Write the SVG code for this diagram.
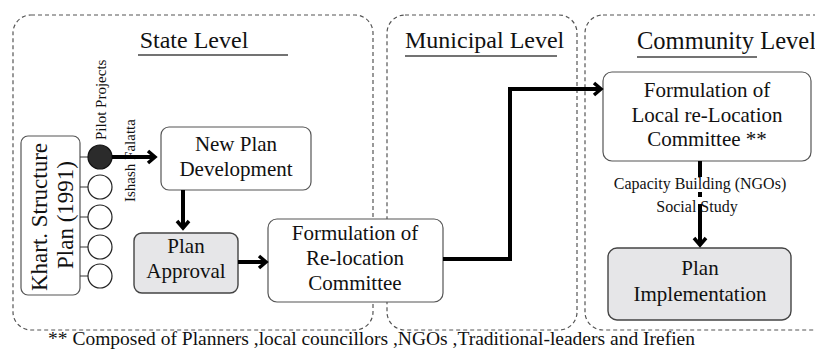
<svg xmlns="http://www.w3.org/2000/svg" width="815" height="352" viewBox="0 0 815 352">
  <style>
    .panel { fill: none; stroke: #555; stroke-width: 1.2; stroke-dasharray: 4 3; }
    .box { fill: #fff; stroke: #555; stroke-width: 1.2; }
    .grey { fill: #e6e6e8; stroke: #444; stroke-width: 1.4; }
    .lbl { font-family: "Liberation Serif", "Times New Roman", serif; font-size: 21px; fill: #111; text-anchor: middle; }
    .rot { font-size: 23px; }
    .title { font-family: "Liberation Serif", "Times New Roman", serif; font-size: 24px; fill: #111; }
    .small { font-family: "Liberation Serif", "Times New Roman", serif; font-size: 16px; fill: #111; }
    .note { font-size: 19.5px; }
    .tiny { font-family: "Liberation Serif", "Times New Roman", serif; font-size: 15px; fill: #111; }
    .uline { stroke: #444; stroke-width: 1.6; }
    .flow { fill: none; stroke: #000; stroke-width: 4; }
    .tick { stroke: #333; stroke-width: 1; }
    .dot { fill: #fff; stroke: #222; stroke-width: 1.2; }
  </style>
  <defs>
    <marker id="chev" markerUnits="userSpaceOnUse" markerWidth="14" markerHeight="16" refX="10" refY="8" orient="auto">
      <path d="M3,2 L10,8 L3,14" fill="none" stroke="#000" stroke-width="3.5"/>
    </marker>
  </defs>

  <!-- level panels -->
  <g id="state-level">
    <rect class="panel" x="13" y="15" width="360" height="315" rx="18"/>
    <text class="title" x="194" y="48" text-anchor="middle">State Level</text>
    <line class="uline" x1="138" y1="55" x2="288" y2="55"/>
  </g>
  <g id="municipal-level">
    <rect class="panel" x="387" y="15" width="190" height="315" rx="18"/>
    <text class="title" x="405" y="48">Municipal Level</text>
    <line class="uline" x1="405" y1="56" x2="557" y2="56"/>
  </g>
  <g id="community-level">
    <rect class="panel" x="585" y="15" width="250" height="315" rx="18"/>
    <text class="title" x="637" y="49" style="font-size:24.5px">Community Level</text>
    <line class="uline" x1="637" y1="57" x2="757" y2="57"/>
  </g>

  <!-- structure plan with its projects -->
  <g id="structure-plan">
    <rect class="box" x="21" y="136" width="59" height="159" rx="7"/>
    <text class="lbl rot" transform="translate(47,217) rotate(-90)">Khart. Structure</text>
    <text class="lbl rot" transform="translate(73,215) rotate(-90)">Plan (1991)</text>
  </g>
  <g id="projects">
    <line class="tick" x1="80" y1="157" x2="88" y2="157"/>
    <line class="tick" x1="80" y1="187" x2="88" y2="187"/>
    <line class="tick" x1="80" y1="217" x2="88" y2="217"/>
    <line class="tick" x1="80" y1="247" x2="88" y2="247"/>
    <line class="tick" x1="80" y1="276" x2="88" y2="276"/>
    <circle cx="100" cy="157" r="12" fill="#2b2b2b" stroke="#111" stroke-width="1.2"/>
    <circle class="dot" cx="100" cy="187" r="12"/>
    <circle class="dot" cx="100" cy="217" r="12"/>
    <circle class="dot" cx="100" cy="247" r="12"/>
    <circle class="dot" cx="100" cy="276" r="12"/>
    <text class="tiny" transform="translate(106,140) rotate(-90)">Pilot Projects</text>
    <text class="tiny" transform="translate(135,202) rotate(-90)">Ishash Falatta</text>
  </g>

  <g id="new-plan">
    <rect class="box" x="161" y="127" width="150" height="63" rx="8"/>
    <text class="lbl" x="236" y="151">New Plan</text>
    <text class="lbl" x="236" y="176">Development</text>
  </g>
  <g id="plan-approval">
    <rect class="grey" x="134" y="233" width="104" height="60" rx="8"/>
    <text class="lbl" x="186" y="253">Plan</text>
    <text class="lbl" x="186" y="278">Approval</text>
  </g>
  <g id="relocation-committee">
    <rect class="box" x="268" y="219" width="175" height="83" rx="9"/>
    <text class="lbl" x="355" y="240">Formulation of</text>
    <text class="lbl" x="355" y="265">Re-location</text>
    <text class="lbl" x="355" y="290">Committee</text>
  </g>
  <g id="local-committee">
    <rect class="box" x="603" y="72" width="208" height="89" rx="9"/>
    <text class="lbl" x="707" y="97">Formulation of</text>
    <text class="lbl" x="707" y="122">Local re-Location</text>
    <text class="lbl" x="707" y="146">Committee **</text>
  </g>
  <g id="plan-implementation">
    <rect class="grey" x="608" y="248" width="183" height="72" rx="9"/>
    <text class="lbl" x="700" y="275">Plan</text>
    <text class="lbl" x="700" y="301">Implementation</text>
  </g>

  <!-- connectors -->
  <g id="connectors">
    <path class="flow" d="M112,157 H155" marker-end="url(#chev)"/>
    <path class="flow" d="M183,190 V228" marker-end="url(#chev)"/>
    <path class="flow" d="M238,262 H266" marker-end="url(#chev)"/>
    <path class="flow" d="M443,259 H510 V89 H601" marker-end="url(#chev)"/>
    <path class="flow" d="M700,161 V177"/>
    <path class="flow" d="M700,192 V197"/>
    <path class="flow" d="M700,204 V245" marker-end="url(#chev)"/>
    <text class="small" x="700" y="189" text-anchor="middle">Capacity Building (NGOs)</text>
    <text class="small" x="697" y="212" text-anchor="middle">Social Study</text>
  </g>

  <text class="small note" x="48" y="345">** Composed of  Planners ,local councillors ,NGOs ,Traditional-leaders and Irefien</text>
</svg>
